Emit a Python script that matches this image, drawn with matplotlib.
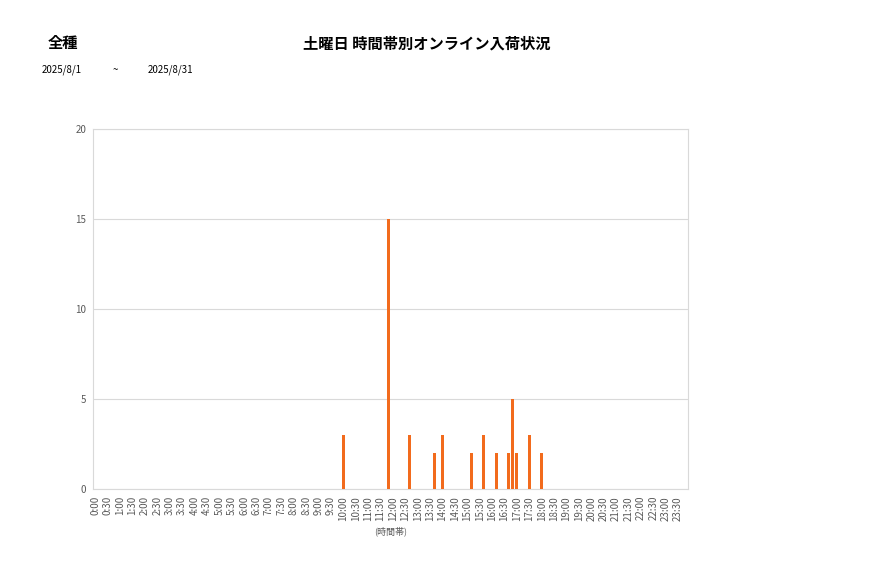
import matplotlib
matplotlib.use("Agg")
import matplotlib.pyplot as plt
import numpy as np

plt.rcParams['font.family'] = ['Noto Sans CJK JP', 'DejaVu Sans']

title = "土曜日 時間帯別オンライン入荷状況"
category = "全種"
date_from = "2025/8/1"
date_to = "2025/8/31"
xlabel = "(時間帯)"

# 10-minute bins across the day
slots = [f"{h}:{m:02d}" for h in range(24) for m in range(0, 60, 10)]
tick_labels = [f"{h}:{m:02d}" for h in range(24) for m in (0, 30)]

bar_times = ["10:00", "11:50", "12:40", "13:40", "14:00", "15:10", "15:40",
             "16:10", "16:40", "16:50", "17:00", "17:30", "18:00"]
bar_values = [3, 15, 3, 2, 3, 2, 3, 2, 2, 5, 2, 3, 2]

yticks = [0, 5, 10, 15, 20]

values = np.zeros(len(slots))
for t, v in zip(bar_times, bar_values):
    values[slots.index(t)] = v

fig = plt.figure(figsize=(8.77, 5.78), dpi=100)
ax = fig.add_axes([93.3 / 877, 1 - 489 / 578, (688.3 - 93.3) / 877, (489 - 129) / 578])

x = np.arange(len(slots))
ax.bar(x, values, width=0.8, color="#F26B1D", zorder=3)

ax.set_xlim(-0.5, len(slots) - 0.5)
ax.set_ylim(0, 20)
ax.set_yticks(yticks)
ax.set_yticklabels([str(v) for v in yticks], fontsize=7, color="#595959")
tick_pos = [slots.index(t) for t in tick_labels]
ax.set_xticks(tick_pos)
ax.set_xticklabels(tick_labels, rotation=90, fontsize=7, color="#595959")
ax.tick_params(axis="both", length=0, pad=5)
ax.grid(axis="y", color="#D9D9D9", linewidth=0.8, zorder=0)
for s in ax.spines.values():
    s.set_color("#D9D9D9")
    s.set_linewidth(0.8)

ax.set_xlabel(xlabel, fontsize=6.5, color="#595959", labelpad=4)

fig.text(63 / 877, 1 - 43 / 578, category, fontsize=11, fontweight="bold", ha="center", va="center")
fig.text(427 / 877, 1 - 44 / 578, title, fontsize=11, fontweight="bold", ha="center", va="center")
fig.text(42 / 877, 1 - 70 / 578, date_from, fontsize=7, ha="left", va="center")
fig.text(115 / 877, 1 - 70 / 578, "~", fontsize=7, ha="center", va="center")
fig.text(148 / 877, 1 - 70 / 578, date_to, fontsize=7, ha="left", va="center")

fig.savefig("out.png", dpi=100)
